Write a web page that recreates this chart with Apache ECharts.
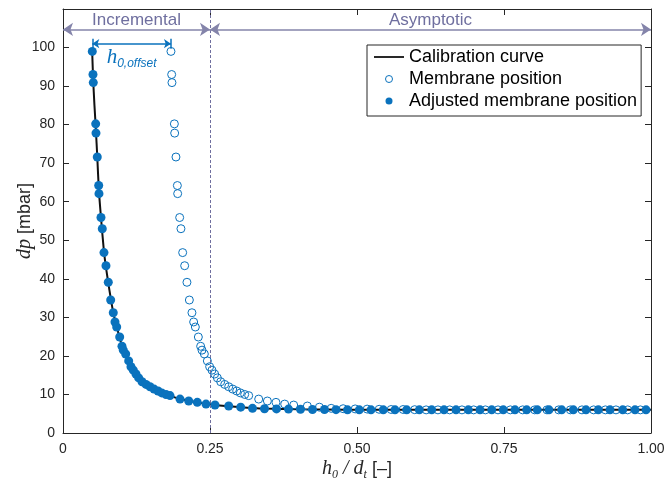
<!DOCTYPE html>
<html><head><meta charset="utf-8">
<script src="https://cdn.jsdelivr.net/npm/echarts@6/dist/echarts.min.js"></script>
<style>html,body{margin:0;padding:0;background:#fff}#c{width:665px;height:488px}</style>
</head><body><div id="c"></div>
<script>
// ---- data ----
const xTickLabels = {0: '0', 0.25: '0.25', 0.5: '0.50', 0.75: '0.75', 1: '1.00'};
const yTickMax = 100;

const calibrationCurve = [
  [0.0495,99.6],[0.0512,92],[0.0535,85],[0.0558,79],[0.0583,71.6],[0.0610,63],[0.0646,55.9],
  [0.0697,47],[0.0740,42],[0.0790,37],[0.0855,31.2],[0.0920,27.2],[0.1000,22.8],[0.1066,20.3],
  [0.1156,17.4],[0.1241,15.3],[0.1344,13.4],[0.1480,12.0],[0.1616,10.9],[0.1820,9.7],[0.1990,8.8],
  [0.2284,7.95],[0.2585,7.25],[0.3022,6.7],[0.3427,6.35],[0.4039,6.15],[0.4838,6.02],[0.6,6.0],
  [0.8,6.0],[1.0,6.0]
];

const adjustedPosition = [
  [0.0498,99.0],[0.0510,93.0],[0.0515,90.9],[0.0556,80.2],[0.0561,77.8],[0.0583,71.6],[0.0607,64.2],
  [0.0612,62.1],[0.0646,55.9],[0.0668,53.0],[0.0697,46.8],[0.0731,43.4],[0.0770,39.1],[0.0811,34.5],
  [0.0855,31.2],[0.0884,28.8],[0.0913,27.5],[0.0964,24.9],[0.1003,22.5],[0.1026,21.5],[0.1066,20.5],
  [0.1117,18.7],[0.1156,17.2],[0.1196,16.3],[0.1241,15.3],[0.1287,14.3],[0.1344,13.3],[0.1412,12.6],
  [0.1480,12.0],[0.1548,11.4],[0.1616,10.9],[0.1679,10.4],[0.1752,10.0],[0.1820,9.7],[0.1990,8.8],
  [0.2138,8.3],[0.2284,7.95],[0.2432,7.5],[0.2585,7.25],[0.2818,7.0],[0.3022,6.7],[0.3223,6.4],
  [0.3427,6.3],[0.3631,6.25],[0.3835,6.2],[0.4039,6.15],[0.4243,6.1],[0.4447,6.1],[0.4643,6.05],
  [0.4838,6.0],[0.5039,6.0],[0.5238,6.0],[0.5447,6.0],[0.5646,6.0],[0.5845,6.0],[0.6060,6.0],
  [0.6270,6.0],[0.6480,6.0],[0.6684,6.0],[0.6893,6.0],[0.7092,6.0],[0.7291,6.0],[0.7488,6.0],
  [0.7687,6.0],[0.7886,6.0],[0.8066,6.0],[0.8265,6.0],[0.8481,6.0],[0.8679,6.0],[0.8895,6.0],
  [0.9104,6.0],[0.9303,6.0],[0.9519,6.0],[0.9728,6.0],[0.9915,6.0]
];

const membranePosition = [
  [0.1836,99.0],[0.1848,93.0],[0.1853,90.9],[0.1894,80.2],[0.1899,77.8],[0.1921,71.6],[0.1945,64.2],
  [0.1950,62.1],[0.1984,55.9],[0.2006,53.0],[0.2035,46.8],[0.2069,43.4],[0.2108,39.1],[0.2149,34.5],
  [0.2193,31.2],[0.2222,28.8],[0.2251,27.5],[0.2302,24.9],[0.2341,22.5],[0.2364,21.5],[0.2404,20.5],
  [0.2455,18.7],[0.2494,17.2],[0.2534,16.3],[0.2579,15.3],[0.2625,14.3],[0.2682,13.3],[0.2750,12.6],
  [0.2818,12.0],[0.2886,11.4],[0.2954,10.9],[0.3017,10.4],[0.3090,10.0],[0.3158,9.7],[0.3328,8.8],
  [0.3476,8.3],[0.3622,7.95],[0.3770,7.5],[0.3923,7.25],[0.4156,7.0],[0.4360,6.7],[0.4561,6.4],
  [0.4765,6.3],[0.4969,6.25],[0.5173,6.2],[0.5377,6.15],[0.5581,6.1],[0.5785,6.1],[0.5981,6.05],
  [0.6176,6.0],[0.6377,6.0],[0.6576,6.0],[0.6785,6.0],[0.6984,6.0],[0.7183,6.0],[0.7398,6.0],
  [0.7608,6.0],[0.7818,6.0],[0.8022,6.0],[0.8231,6.0],[0.8430,6.0],[0.8629,6.0],[0.8826,6.0],
  [0.9025,6.0],[0.9224,6.0],[0.9404,6.0],[0.9603,6.0],[0.9819,6.0]
];

const regionBoundary = 0.25;
const regionArrowY = 104.7;
const offsetFrom = 0.0498, offsetTo = 0.1836, offsetY = 101.0;
const regionNames = ['Incremental', 'Asymptotic'];
const seriesNames = ['Calibration curve', 'Membrane position', 'Adjusted membrane position'];

// ---- styling ----
const BLUE = '#0a72bd';
const AXIS = '#262626';
const REGION = '#6f6f9f';
const SANS = '"Liberation Sans", Arial, Helvetica, sans-serif';
const SERIF = '"Liberation Serif", "Times New Roman", serif';

const chart = echarts.init(document.getElementById('c'), null, {renderer: 'canvas'});

function frameAxisX(pos, show) {
  return {
    type: 'value', position: pos, min: 0, max: 1, interval: 0.25,
    axisLine: {show: true, onZero: false, lineStyle: {color: AXIS, width: 1}},
    axisTick: {show: true, inside: true, length: 6, lineStyle: {color: AXIS}},
    axisLabel: {show: show, margin: 9, fontSize: 14, color: AXIS, fontFamily: SANS,
      formatter: v => xTickLabels[v] !== undefined ? xTickLabels[v] : ''},
    splitLine: {show: false}
  };
}
function frameAxisY(pos, show) {
  return {
    type: 'value', position: pos, min: 0, max: 110, interval: 10,
    axisLine: {show: true, onZero: false, lineStyle: {color: AXIS, width: 1}},
    axisTick: {show: true, inside: true, length: 6, lineStyle: {color: AXIS}},
    axisLabel: {show: show, margin: 8, fontSize: 14, color: AXIS, fontFamily: SANS,
      formatter: v => v > yTickMax ? '' : String(v)},
    splitLine: {show: false}
  };
}

const xMain = frameAxisX('bottom', true);
Object.assign(xMain, {
  name: '{i|h}{s|0}{i| / d}{s|t}{n| [–]}', nameLocation: 'middle', nameGap: 23, nameMoveOverlap: false,
  nameTextStyle: {rich: {
    i: {fontFamily: SERIF, fontStyle: 'italic', fontSize: 20, color: AXIS, lineHeight: 26},
    s: {fontFamily: SERIF, fontStyle: 'italic', fontSize: 12, color: AXIS, lineHeight: 14, padding: [12, 0, 0, 0]},
    n: {fontFamily: SANS, fontSize: 18, color: AXIS, lineHeight: 26}
  }}
});
const yMain = frameAxisY('left', true);
Object.assign(yMain, {
  name: '{i|dp}{n| [mbar]}', nameLocation: 'middle', nameGap: 28, nameMoveOverlap: false,
  nameTextStyle: {rich: {
    i: {fontFamily: SERIF, fontStyle: 'italic', fontSize: 20, color: AXIS},
    n: {fontFamily: SANS, fontSize: 18, color: AXIS}
  }}
});

const lineIcon = 'path://M0,0L30,0L30,1.8L0,1.8Z';

const option = {
  animation: false,
  backgroundColor: '#fff',
  grid: {left: 63, right: 14, top: 9, bottom: 55, containLabel: false, outerBoundsMode: 'none'},
  xAxis: [xMain, frameAxisX('top', false)],
  yAxis: [yMain, frameAxisY('right', false)],
  legend: {
    data: [
      {name: seriesNames[0], icon: lineIcon},
      {name: seriesNames[1], itemStyle: {borderWidth: 1, borderColor: BLUE, color: '#fff'}},
      {name: seriesNames[2]}
    ],
    orient: 'vertical', left: 367, top: 45,
    backgroundColor: '#fff', borderColor: AXIS, borderWidth: 1, borderRadius: 0,
    padding: [3, 4, 6, 7], itemWidth: 30, itemHeight: 7, itemGap: 4,
    textStyle: {fontSize: 18, color: '#000', fontFamily: SANS, lineHeight: 18}
  },
  series: [
    {
      name: seriesNames[0], type: 'line', data: calibrationCurve, smooth: 0.2,
      symbol: 'none', showSymbol: false, clip: true, z: 2,
      lineStyle: {color: '#111', width: 2}, itemStyle: {color: '#111'}
    },
    {
      name: seriesNames[1], type: 'scatter', data: membranePosition, clip: true, z: 3,
      symbol: 'circle', symbolSize: 8,
      itemStyle: {color: 'rgba(255,255,255,0)', borderColor: BLUE, borderWidth: 1, opacity: 1}
    },
    {
      name: seriesNames[2], type: 'scatter', data: adjustedPosition, clip: true, z: 4,
      symbol: 'circle', symbolSize: 9,
      itemStyle: {color: BLUE, opacity: 1}
    },
    // dashed region boundary
    {
      name: 'boundary', type: 'line', data: [], z: 1, silent: true,
      markLine: {
        silent: true, animation: false, symbol: 'none',
        lineStyle: {type: [3, 2], color: REGION, width: 1},
        label: {show: false},
        data: [{xAxis: regionBoundary}]
      }
    },
    // region arrows and names
    {
      name: 'regions', type: 'line', data: [], z: 1, silent: true,
      markLine: {
        silent: true, animation: false, symbol: ['arrow', 'arrow'], symbolSize: 10,
        lineStyle: {type: 'solid', color: '#8484aa', width: 1.5},
        label: {show: true, position: 'middle', distance: 1, color: REGION, fontSize: 17, fontFamily: SANS},
        data: [
          [{coord: [0, regionArrowY], label: {formatter: regionNames[0]}}, {coord: [regionBoundary, regionArrowY]}],
          [{coord: [regionBoundary, regionArrowY], label: {formatter: regionNames[1]}}, {coord: [1, regionArrowY]}]
        ]
      }
    },
    // h0,offset annotation arrow
    {
      name: 'offset', type: 'line', data: [], z: 5, silent: true,
      markLine: {
        silent: true, animation: false, symbol: ['arrow', 'arrow'], symbolSize: 7,
        lineStyle: {type: 'solid', color: BLUE, width: 1.5},
        label: {show: true, position: 'insideMiddleBottom', distance: 2,
          formatter: '{h|h}{s|0,offset}',
          rich: {
            h: {fontFamily: SERIF, fontStyle: 'italic', fontSize: 21, color: BLUE, lineHeight: 24},
            s: {fontFamily: SANS, fontStyle: 'italic', fontSize: 12, color: BLUE, lineHeight: 14, padding: [12, 0, 0, 0]}
          }},
        data: [[{coord: [offsetFrom, offsetY]}, {coord: [offsetTo, offsetY]}]]
      }
    },
    // h0,offset end bars
    {
      name: 'offsetBars', type: 'line', data: [], z: 5, silent: true,
      markLine: {
        silent: true, animation: false, symbol: 'none',
        lineStyle: {type: 'solid', color: BLUE, width: 1.5},
        label: {show: false},
        data: [
          [{coord: [offsetFrom, offsetY - 1.3]}, {coord: [offsetFrom, offsetY + 1.3]}],
          [{coord: [offsetTo, offsetY - 1.3]}, {coord: [offsetTo, offsetY + 1.3]}]
        ]
      }
    }
  ]
};
chart.setOption(option);
</script></body></html>
